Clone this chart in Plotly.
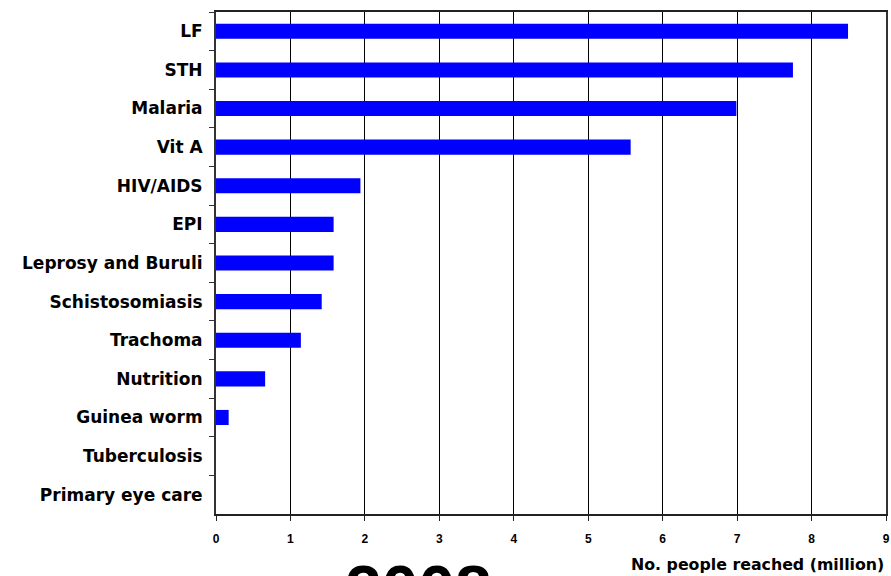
import plotly.graph_objects as go

categories = ["LF", "STH", "Malaria", "Vit A", "HIV/AIDS", "EPI", "Leprosy and Buruli",
              "Schistosomiasis", "Trachoma", "Nutrition", "Guinea worm", "Tuberculosis",
              "Primary eye care"]
reached_million = [8.49, 7.75, 6.99, 5.57, 1.94, 1.58, 1.58, 1.42, 1.14, 0.66, 0.17, 0.0, 0.0]
x_ticks = list(range(0, 10))

ARIAL = "Liberation Sans, Arial, sans-serif"
WIDE = "DejaVu Sans, Verdana, sans-serif"

fig = go.Figure(go.Bar(
    y=categories,
    x=reached_million,
    orientation="h",
    marker=dict(color="#0000FF", line=dict(width=0)),
))

fig.update_layout(
    width=891, height=576,
    margin=dict(l=216, r=1, t=12, b=62),
    paper_bgcolor="white", plot_bgcolor="white",
    bargap=0.61,
    showlegend=False,
    font=dict(family=ARIAL, color="black"),
    xaxis=dict(
        range=[0, 9], tickvals=x_ticks, ticktext=[str(v) for v in x_ticks],
        showgrid=True, gridcolor="black", gridwidth=1,
        showline=True, linecolor="#222222", linewidth=2, mirror=True,
        ticks="outside", ticklen=5, tickcolor="#222222", tickwidth=1,
        tickfont=dict(family=ARIAL, size=12, color="black", weight="bold"),
        ticklabelstandoff=8, ticklabeloverflow="allow",
        zeroline=False, fixedrange=True,
    ),
    yaxis=dict(
        autorange="reversed",
        showline=True, linecolor="#333333", linewidth=2, mirror=True,
        ticks="outside", ticklen=5, tickcolor="#333333", tickson="boundaries",
        tickfont=dict(family=WIDE, size=17, color="black", weight="bold"),
        ticklabelstandoff=8,
        showgrid=False, zeroline=False,
    ),
    annotations=[
        dict(text="No. people reached (million)", xref="paper", yref="paper",
             x=1.0, y=-0.077, xanchor="right", yanchor="top", showarrow=False,
             font=dict(family=WIDE, size=15.8, color="black", weight="bold")),
        dict(text="2008", xref="paper", yref="paper",
             x=0.302, y=-0.072, xanchor="center", yanchor="top", showarrow=False,
             font=dict(family=ARIAL, size=66, color="black", weight="bold")),
    ],
)

fig.write_html("out.html")
